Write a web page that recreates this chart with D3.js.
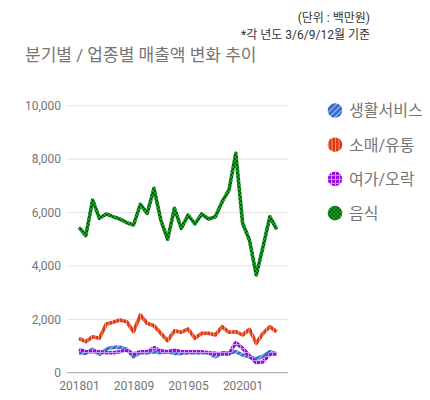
<!DOCTYPE html>
<html>
<head>
<meta charset="utf-8">
<script src="https://cdn.jsdelivr.net/npm/d3@7"></script>
<style>
  body { margin: 0; background: #fff; }
  svg text { font-family: Roboto, "Noto Sans CJK KR", sans-serif; }
</style>
</head>
<body>
<svg id="chart" width="430" height="400"></svg>
<script>
// monthly categories, 201801 .. 202006
var months = ["201801","201802","201803","201804","201805","201806","201807","201808","201809","201810",
              "201811","201812","201901","201902","201903","201904","201905","201906","201907","201908",
              "201909","201910","201911","201912","202001","202002","202003","202004","202005","202006"];
var tickMonths = ["201801","201809","201905","202001"];
var yTicks = [0, 2000, 4000, 6000, 8000, 10000];

var seriesNames = ["생활서비스", "소매/유통", "여가/오락", "음식"];

var service = [750,725,876,690,876,950,950,876,600,750,750,787,750,787,725,725,750,750,750,750,
               600,750,750,787,663,600,513,625,787,700];
var retail  = [1288,1161,1348,1288,1824,1888,1974,1910,1536,2161,1850,1760,1476,1198,1573,1513,1637,1288,1476,1476,
               1412,1723,1513,1536,1412,1625,1101,1476,1723,1536];
var leisure = [876,787,787,787,750,750,787,850,700,787,787,936,824,787,850,787,787,787,787,750,
               725,700,700,1124,914,625,375,412,700,700];
var food    = [5446,5131,6468,5783,5944,5843,5757,5618,5532,6307,5970,6906,5719,4996,6157,5408,5906,5569,5944,5757,
               5843,6404,6843,8217,5596,4970,3659,4719,5843,5371];

var allSeries = [service, retail, leisure, food];

var svg = d3.select("#chart");
var defs = svg.append("defs");

// stripe / grid / checker fills, one per series
function stripes(id, base, light) {
  var p = defs.append("pattern").attr("id", id).attr("patternUnits", "userSpaceOnUse")
      .attr("width", 4).attr("height", 4).attr("patternTransform", "rotate(45)");
  p.append("rect").attr("width", 4).attr("height", 4).attr("fill", base);
  p.append("rect").attr("width", 1.2).attr("height", 4).attr("fill", light);
}
function vstripes(id, base, light) {
  var p = defs.append("pattern").attr("id", id).attr("patternUnits", "userSpaceOnUse")
      .attr("width", 3.5).attr("height", 4);
  p.append("rect").attr("width", 3.5).attr("height", 4).attr("fill", base);
  p.append("rect").attr("width", 1).attr("height", 4).attr("fill", light);
}
function grid(id, base, light) {
  var p = defs.append("pattern").attr("id", id).attr("patternUnits", "userSpaceOnUse")
      .attr("width", 4).attr("height", 4);
  p.append("rect").attr("width", 4).attr("height", 4).attr("fill", base);
  p.append("rect").attr("width", 1).attr("height", 4).attr("fill", light);
  p.append("rect").attr("width", 4).attr("height", 1).attr("fill", light);
}
function checker(id, base, dark) {
  var p = defs.append("pattern").attr("id", id).attr("patternUnits", "userSpaceOnUse")
      .attr("width", 4).attr("height", 4);
  p.append("rect").attr("width", 4).attr("height", 4).attr("fill", base);
  p.append("rect").attr("width", 2).attr("height", 2).attr("fill", dark);
  p.append("rect").attr("x", 2).attr("y", 2).attr("width", 2).attr("height", 2).attr("fill", dark);
}
stripes("p0", "#3366cc", "#a9c1f0");
vstripes("p1", "#dc3912", "#f59a80");
grid("p2", "#9410d8", "#cf95f2");
checker("p3", "#17a322", "#0b5e10");
var fills = ["url(#p0)", "url(#p1)", "url(#p2)", "url(#p3)"];

var x = d3.scalePoint().domain(months).range([79, 276.7]);
var y = d3.scaleLinear().domain([0, 10000]).range([372.7, 105.7]);

// gridlines
svg.append("g").selectAll("line")
  .data(yTicks)
  .enter().append("line")
  .attr("x1", 67).attr("x2", 288)
  .attr("y1", function (d) { return y(d); })
  .attr("y2", function (d) { return y(d); })
  .attr("stroke", function (d) { return d === 0 ? "#9e9e9e" : "#e3e3e3"; })
  .attr("stroke-width", 1);

// y labels
var yAxis = svg.append("g")
  .attr("transform", "translate(67,0)")
  .call(d3.axisLeft(y).tickValues(yTicks).tickSize(0).tickPadding(6).tickFormat(d3.format(",")));
yAxis.select(".domain").remove();
yAxis.selectAll("text").attr("fill", "#757575").style("font-size", "12px");

// x labels
var xAxis = svg.append("g")
  .attr("transform", "translate(0,373)")
  .call(d3.axisBottom(x).tickValues(tickMonths).tickSize(0).tickPadding(8));
xAxis.select(".domain").remove();
xAxis.selectAll("text").attr("fill", "#757575").style("font-size", "12px");

var line = d3.line()
  .x(function (d, i) { return x(months[i]); })
  .y(function (d) { return y(d); });

svg.append("g").selectAll("path")
  .data(allSeries)
  .enter().append("path")
  .attr("d", line)
  .attr("fill", "none")
  .attr("stroke", function (d, i) { return fills[i]; })
  .attr("stroke-width", 3.6)
  .attr("stroke-linejoin", "round");

// legend
var legend = svg.append("g").selectAll("g")
  .data(seriesNames)
  .enter().append("g")
  .attr("transform", function (d, i) { return "translate(335," + (110.5 + i * 34.2) + ")"; });
legend.append("circle").attr("r", 7.3).attr("fill", function (d, i) { return fills[i]; });
legend.append("text")
  .attr("x", 14).attr("y", 5.8)
  .attr("fill", "#757575")
  .style("font-size", "16px")
  .text(function (d) { return d; });

// title and notes
svg.append("text").attr("x", 25).attr("y", 61)
  .attr("fill", "#757575").style("font-size", "17px")
  .text("분기별 / 업종별 매출액 변화 추이");
svg.append("text").attr("x", 370).attr("y", 22).attr("text-anchor", "end")
  .attr("fill", "#333").style("font-size", "12px")
  .text("(단위 : 백만원)");
svg.append("text").attr("x", 370).attr("y", 39).attr("text-anchor", "end")
  .attr("fill", "#333").style("font-size", "12px")
  .text("*각 년도 3/6/9/12월 기준");
</script>
</body>
</html>
